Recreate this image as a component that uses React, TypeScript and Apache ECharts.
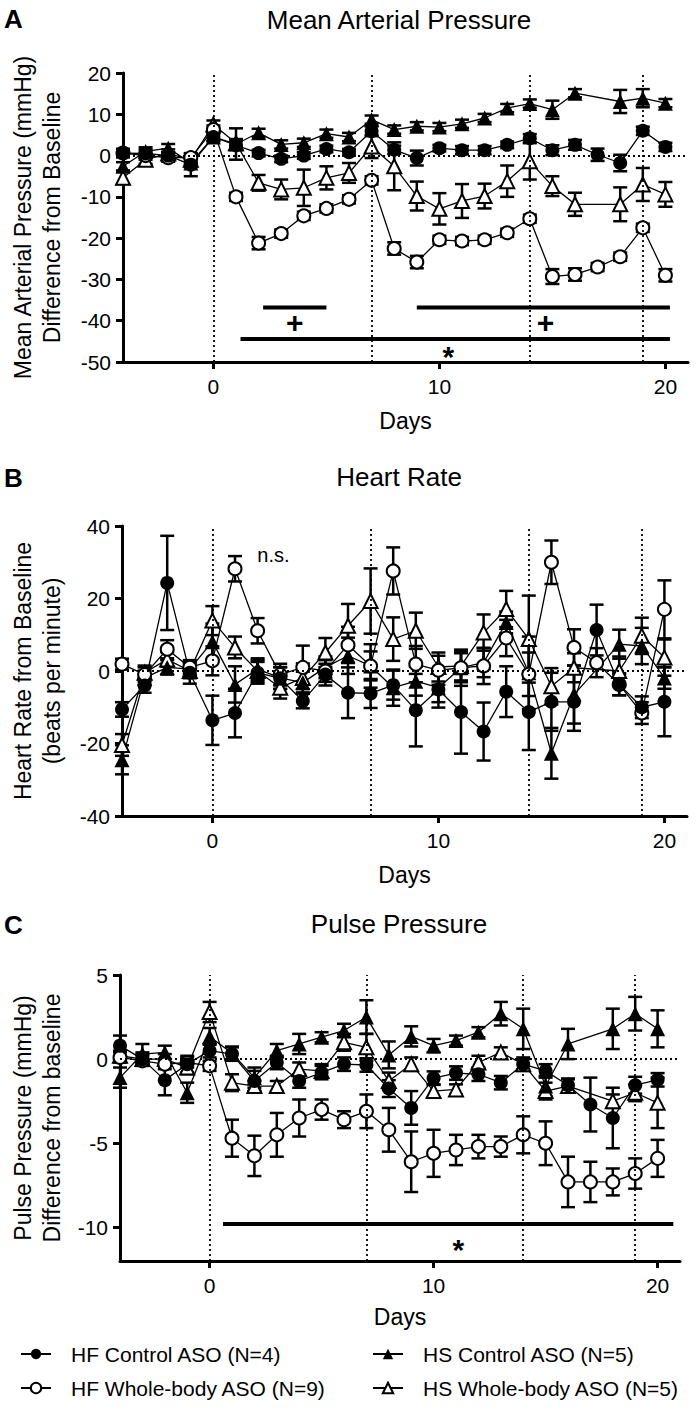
import React, { useEffect, useRef } from "react";
import * as echarts from "echarts";

const FONT = "'Liberation Sans', Arial, Helvetica, sans-serif";

const days = [-4, -3, -2, -1, 0, 1, 2, 3, 4, 5, 6, 7, 8, 9, 10, 11, 12, 13, 14, 15, 16, 17, 18, 19, 20];
const groupNames = ["HF Control ASO (N=4)", "HF Whole-body ASO (N=9)", "HS Control ASO (N=5)", "HS Whole-body ASO (N=5)"];
const xTicks = [0, 10, 20];
const phaseDays = [0, 7, 14, 19];

// Panel A: Mean arterial pressure (mmHg, difference from baseline)
const mapTicks = [-50, -40, -30, -20, -10, 0, 10, 20];
const mapHFControl = [0.6, 0.5, 0, -2.2, 4.5, 2.5, 0.6, -0.8, 0, 1.6, 0.8, 5.9, 1.4, -0.6, 1.8, 1.3, 1.3, 2.6, 4.2, 1.3, 2.6, 0.2, -1.8, 6, 2.1];
const mapHFControlSem = [1, 1, 0.8, 2.8, 1, 1, 0.8, 0.8, 0.8, 0.8, 0.8, 1.2, 1, 1.8, 0.8, 1, 1, 0.8, 1, 1.2, 1.2, 1.5, 2, 1, 1];
const mapHFWhole = [0.6, 0, -0.5, -0.5, 6.3, -10, -21.2, -18.9, -14.6, -12.8, -10.6, -6, -22.5, -25.8, -20.4, -20.7, -20.4, -18.7, -15.3, -29.3, -28.8, -27, -24.5, -17.5, -29];
const mapHFWholeSem = [1, 1, 1, 1, 1, 1, 1.5, 1, 1, 1, 1, 1, 1.5, 1.5, 1, 1, 1, 1, 1, 1.8, 1.5, 1, 1, 1, 1.5];
const mapHSControl = [-2.6, 1, 1.8, -1.8, 4.5, 2.8, 5.5, 2.7, 3.1, 5.3, 4.5, 8.7, 6.3, 7.1, 6.9, 7.7, 9.1, 11.5, 12.6, 11.1, 15.1, null, 13.1, 13.9, 12.7];
const mapHSControlSem = [1, 1, 1, 1, 1, 3.8, 1, 1, 1, 1, 1, 1, 1, 1, 1, 1, 1, 1, 1, 2.2, 1, 0, 2.8, 2.2, 1];
const mapHSWhole = [-5.4, -1, 0.5, -1, 7.5, 3, -6.6, -8.2, -7.8, -5.4, -4.2, 2.2, -2.6, -9.8, -12.9, -11, -9.8, -6.2, -1.4, -7.4, -11.8, null, -11.8, -7, -9.4];
const mapHSWholeSem = [1.5, 1, 1, 1, 1, 1, 1.9, 2.4, 4.4, 2.8, 2.4, 2.8, 5.8, 3.5, 3.8, 4.1, 3, 3.8, 4.4, 2.4, 2.8, 0, 4.1, 4, 3];
const mapSigBars = [[2.2, 5, -36.8], [9, 20.2, -36.8], [1.2, 20.2, -44.4]];
const mapSigMarks = [[3.6, -40.4, "+"], [14.7, -40.4, "+"], [10.4, -48.6, "*"]];

// Panel B: Heart rate (beats per minute, from baseline)
const hrTicks = [-40, -20, 0, 20, 40];
const hrHFControl = [-10.6, -4, 24.3, -0.5, -13.6, -11.6, -0.5, -2, -8.3, -1, -6, -6.2, -3.9, -10.8, -5.1, -11.3, -16.7, -5.7, -11.3, -8.5, -8.5, 11.3, -3.7, -10, -8.5];
const hrHFControlSem = [2, 2, 13, 3, 6.8, 6.7, 3, 3, 2, 3, 7, 4, 4, 10, 5, 11.5, 8, 7, 10.5, 8, 8, 7, 3, 3, 9.5];
const hrHFWhole = [1.9, -1, 6, 1, 2.8, 28.2, 11.1, -1, 1, 0, 7.2, 1.4, 27.6, 1.9, 0.2, 0.9, 1.4, 9.1, -0.9, 30, 6.5, 2.3, -3.7, -11.6, 17];
const hrHFWholeSem = [1.5, 2, 2.5, 2, 4, 3.5, 3.5, 3, 6, 3, 5, 6, 6.5, 5, 4, 4, 5, 5, 6, 6, 5, 4, 3, 3, 8];
const hrHSControl = [-24.5, -1.9, 1, 0.5, 8.1, -3.7, 0.5, -1.9, -3.2, 1, 4.2, 1.4, -4.6, -2.8, -4.6, 0.9, 2.3, 13.4, -0.5, -22.7, -6.5, null, 7.4, 6.9, -1.9];
const hrHSControlSem = [4, 2, 2, 2, 5, 5, 3, 3, 3, 3, 5, 4, 5, 4, 4, 5, 4, 3, 10, 7, 8, 0, 4, 5, 3];
const hrHSWhole = [-20.4, -0.5, 3.2, 0, 13.9, 6.5, 0, -4.6, -1.9, 5.1, 12.5, 19.3, 8.8, 11.1, 1.1, 1.4, 10.6, 17.1, 8.8, -4.2, 0.9, null, 0, 9.7, 3.7];
const hrHSWholeSem = [3, 2, 2, 2, 4, 3, 3, 3, 4, 4, 6, 9, 6, 5, 4, 4, 5, 5, 12, 5, 4, 0, 4, 5, 5];
const hrSigMarks = [[2.7, 32, "n.s."]];

// Panel C: Pulse pressure (mmHg, difference from baseline)
const ppTicks = [-10, -5, 0, 5];
const ppHFControl = [0.8, 0, -1.25, -0.3, 0.5, 0.3, -1.3, -0.2, -1.3, -0.8, -0.3, -0.35, -1.75, -2.9, -1.13, -0.83, -0.9, -1.4, -0.3, -0.7, -1.55, -2.7, -3.5, -1.55, -1.23];
const ppHFControlSem = [0.6, 0.4, 0.9, 0.5, 0.4, 0.4, 0.6, 0.4, 0.4, 0.4, 0.4, 0.4, 0.5, 1, 0.4, 0.4, 0.4, 0.4, 0.4, 0.4, 0.4, 1.6, 1.8, 0.5, 0.4];
const ppHFWhole = [0.1, -0.1, -0.3, -0.2, -0.4, -4.7, -5.75, -4.5, -3.5, -3, -3.6, -3.1, -4.2, -6.1, -5.6, -5.4, -5.2, -5.2, -4.5, -5, -7.3, -7.3, -7.3, -6.8, -5.9];
const ppHFWholeSem = [0.3, 0.3, 0.3, 0.3, 0.3, 1.1, 1.2, 1.3, 1.1, 0.6, 0.5, 1, 1.3, 1.8, 1.4, 0.9, 0.7, 0.6, 1.1, 1.3, 1.5, 1.2, 0.8, 0.9, 1.1];
const ppHSControl = [-1.1, 0.3, 0.4, -2, 1.35, 0.35, -1.1, 0.5, 0.9, 1.3, 1.7, 2.5, 0.25, 1.35, 0.8, 1.1, 1.6, 2.7, 1.8, -1.6, 0.9, null, 1.8, 2.7, 1.8];
const ppHSControlSem = [0.6, 0.6, 0.4, 0.6, 0.5, 0.4, 0.6, 0.4, 0.6, 0.3, 0.4, 1, 0.8, 0.6, 0.4, 0.3, 0.3, 0.7, 1.2, 0.6, 0.9, 0, 1.2, 1, 1.1];
const ppHSWhole = [0.2, 0, 0, -0.5, 2.8, -1.4, -1.6, -1.6, -0.6, -0.7, 1, 0.7, -1.3, -0.3, -1.9, -1.8, -0.2, 0.4, -0.3, -1.9, -1.6, null, -2.5, -2, -2.6];
const ppHSWholeSem = [0.3, 0.3, 0.3, 0.4, 0.6, 0.5, 0.3, 0.3, 0.4, 0.4, 0.5, 0.8, 0.5, 0.4, 0.4, 0.3, 0.4, 0.3, 0.3, 0.5, 0.4, 0, 0.4, 0.5, 1.5];
const ppSigBars = [[0.6, 20.7, -9.8]];
const ppSigMarks = [[11.1, -11.3, "*"]];

type Panel = {
  values: (number | null)[][];
  sems: number[][];
  yMin: number;
  yMax: number;
  yTicks: number[];
  yName: string;
  sigBars: number[][];
  sigMarks: (number | string)[][];
};

const panels: Panel[] = [
  {
    values: [mapHFControl, mapHFWhole, mapHSControl, mapHSWhole],
    sems: [mapHFControlSem, mapHFWholeSem, mapHSControlSem, mapHSWholeSem],
    yMin: -50, yMax: 20, yTicks: mapTicks,
    yName: "Mean Arterial Pressure (mmHg)\nDifference from Baseline",
    sigBars: mapSigBars, sigMarks: mapSigMarks,
  },
  {
    values: [hrHFControl, hrHFWhole, hrHSControl, hrHSWhole],
    sems: [hrHFControlSem, hrHFWholeSem, hrHSControlSem, hrHSWholeSem],
    yMin: -40, yMax: 40, yTicks: hrTicks,
    yName: "Heart Rate from Baseline\n(beats per minute)",
    sigBars: [], sigMarks: hrSigMarks,
  },
  {
    values: [ppHFControl, ppHFWhole, ppHSControl, ppHSWhole],
    sems: [ppHFControlSem, ppHFWholeSem, ppHSControlSem, ppHSWholeSem],
    yMin: -12, yMax: 5, yTicks: ppTicks,
    yName: "Pulse Pressure (mmHg)\nDifference from baseline",
    sigBars: ppSigBars, sigMarks: ppSigMarks,
  },
];

const panelTitles = ["Mean Arterial Pressure", "Heart Rate", "Pulse Pressure"];
const panelLetters = ["A", "B", "C"];

// layout (not data)
const grids = [
  { left: 108, top: 73, width: 580, height: 289 },
  { left: 107, top: 526, width: 580, height: 290 },
  { left: 105, top: 975, width: 575, height: 286 },
];
const titleTops = [7, 464, 911];
const letterTops = [6, 465, 912];
const xNameGaps = [47, 47, 44];
const yNameGaps = [57, 56, 54];

const groupStyle = [
  { symbol: "circle", size: 14, fill: "#000", border: 0 },
  { symbol: "circle", size: 13, fill: "#fff", border: 2 },
  { symbol: "triangle", size: 15, fill: "#000", border: 0 },
  { symbol: "triangle", size: 14, fill: "#fff", border: 2 },
];
const drawOrder = [3, 2, 1, 0];

const errorBarItem = (_params: any, api: any) => {
  const x = api.value(0);
  const y = api.value(1);
  const e = api.value(2);
  if (!e) return null;
  const top = api.coord([x, y + e]);
  const bot = api.coord([x, y - e]);
  const hw = 7;
  const style = { stroke: "#000", lineWidth: 2.5, fill: null };
  return {
    type: "group",
    children: [
      { type: "line", shape: { x1: top[0], y1: top[1], x2: bot[0], y2: bot[1] }, style },
      { type: "line", shape: { x1: top[0] - hw, y1: top[1], x2: top[0] + hw, y2: top[1] }, style },
      { type: "line", shape: { x1: bot[0] - hw, y1: bot[1], x2: bot[0] + hw, y2: bot[1] }, style },
    ],
  };
};

function buildOption() {
  const series: any[] = [];
  const xAxis: any[] = [];
  const yAxis: any[] = [];
  panels.forEach((p, i) => {
    xAxis.push({
      type: "value", gridIndex: i, min: -4, max: 21,
      name: "Days", nameLocation: "middle", nameGap: xNameGaps[i],
      nameTextStyle: { fontSize: 23, color: "#000", fontFamily: FONT },
      axisLine: { onZero: false, lineStyle: { color: "#000", width: 3 } },
      axisTick: { customValues: xTicks, length: 7, lineStyle: { color: "#000", width: 3 } },
      axisLabel: { customValues: xTicks, margin: 14, fontSize: 21, color: "#000", fontFamily: FONT },
      splitLine: { show: false },
    });
    yAxis.push({
      type: "value", gridIndex: i, min: p.yMin, max: p.yMax,
      name: p.yName, nameLocation: "middle", nameRotate: 90, nameGap: yNameGaps[i],
      nameTextStyle: { fontSize: 23, lineHeight: 29, color: "#000", fontFamily: FONT, align: "center" },
      axisLine: { onZero: false, lineStyle: { color: "#000", width: 3 } },
      axisTick: { customValues: p.yTicks, length: 7, lineStyle: { color: "#000", width: 3 } },
      axisLabel: { customValues: p.yTicks, margin: 12, fontSize: 21, color: "#000", fontFamily: FONT },
      splitLine: { show: false },
    });

    // reference dotted lines
    series.push({
      type: "line", name: "ref" + i, xAxisIndex: i, yAxisIndex: i, data: [], z: 1, silent: true,
      markLine: {
        silent: true, symbol: ["none", "none"], label: { show: false },
        lineStyle: { color: "#000", type: [2, 3], width: 1.8 },
        emphasis: { disabled: true },
        data: [...phaseDays.map((d) => ({ xAxis: d })), { yAxis: 0 }],
      },
    });

    // error bars
    drawOrder.forEach((g) => {
      const vals = p.values[g];
      const sems = p.sems[g];
      series.push({
        type: "custom", name: groupNames[g] + " SEM " + i, xAxisIndex: i, yAxisIndex: i, z: 2, silent: true,
        renderItem: errorBarItem,
        encode: { x: 0, y: 1 },
        data: days.map((d, k) => (vals[k] == null ? null : [d, vals[k], sems[k]])).filter((v) => v !== null),
      });
    });

    // lines + symbols
    drawOrder.forEach((g) => {
      const vals = p.values[g];
      const st = groupStyle[g];
      series.push({
        type: "line", name: groupNames[g], xAxisIndex: i, yAxisIndex: i, z: 3,
        symbol: st.symbol, symbolSize: st.size, showSymbol: true, showAllSymbol: true,
        itemStyle: { color: st.fill, borderColor: "#000", borderWidth: st.border },
        lineStyle: { color: "#000", width: 1.3 },
        emphasis: { disabled: true },
        data: days.map((d, k) => [d, vals[k]]).filter((v) => v[1] !== null),
      });
    });

    // significance bars
    p.sigBars.forEach((b, j) => {
      series.push({
        type: "line", name: "sig" + i + "_" + j, xAxisIndex: i, yAxisIndex: i, z: 4,
        symbol: "none", silent: true,
        lineStyle: { color: "#000", width: 4 },
        data: [[b[0], b[2]], [b[1], b[2]]],
      });
    });
    if (p.sigMarks.length) {
      series.push({
        type: "scatter", name: "marks" + i, xAxisIndex: i, yAxisIndex: i, z: 4, silent: true,
        symbol: "circle", symbolSize: 1, itemStyle: { color: "#fff", opacity: 0 },
        label: {
          show: true, position: "inside",
          formatter: (q: any) => q.value[2],
          color: "#000", opacity: 1, textBorderWidth: 0, textBorderColor: "transparent",
          fontFamily: FONT,
          fontSize: i === 1 ? 20 : 30,
          fontWeight: i === 1 ? "normal" : "bold",
        },
        data: p.sigMarks,
      });
    }
  });

  const title: any[] = [];
  panelTitles.forEach((t, i) => {
    title.push({
      text: panelLetters[i], left: 4, top: letterTops[i], padding: 0,
      textStyle: { fontSize: 26, fontWeight: "bold", color: "#000", fontFamily: FONT },
    });
    title.push({
      text: t, left: 399, top: titleTops[i], padding: 0, textAlign: "center",
      textStyle: { fontSize: 26, fontWeight: "normal", color: "#000", fontFamily: FONT },
    });
  });

  const legendBase = {
    orient: "vertical", top: 1343, itemWidth: 30, itemHeight: 13, itemGap: 12,
    selectedMode: false, padding: 0,
    lineStyle: { width: 2 },
    textStyle: { fontSize: 21, lineHeight: 22, color: "#000", fontFamily: FONT, padding: [0, 0, 0, 15] },
  };

  return {
    animation: false,
    backgroundColor: "#fff",
    title,
    grid: grids,
    xAxis,
    yAxis,
    legend: [
      { ...legendBase, left: 20, data: [groupNames[0], groupNames[1]] },
      { ...legendBase, left: 372, data: [groupNames[2], groupNames[3]] },
    ],
    series,
  };
}

export default function App() {
  const ref = useRef<HTMLDivElement>(null);
  useEffect(() => {
    if (!ref.current) return;
    const chart = echarts.init(ref.current, undefined, { renderer: "svg" });
    chart.setOption(buildOption() as any);
    return () => chart.dispose();
  }, []);
  return <div ref={ref} style={{ position: "absolute", left: 0, top: 0, width: 700, height: 1425 }} />;
}
